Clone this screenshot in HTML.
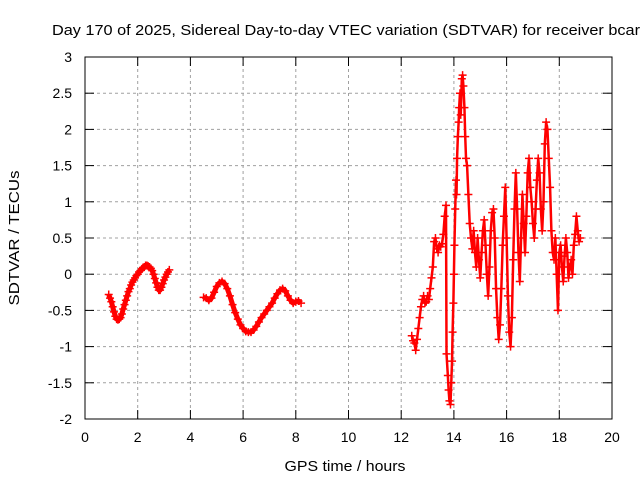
<!DOCTYPE html>
<html><head><meta charset="utf-8"><style>
body{margin:0;background:#fff}
svg{display:block;font-family:"Liberation Sans",sans-serif}
</style></head><body>
<svg id="c" width="640" height="480">
<text x="52" y="35" font-size="15" textLength="588" lengthAdjust="spacingAndGlyphs">Day 170 of 2025, Sidereal Day-to-day VTEC variation (SDTVAR) for receiver bcar</text>
<text x="345" y="471" font-size="15" textLength="121" lengthAdjust="spacingAndGlyphs" text-anchor="middle">GPS time / hours</text>
<text transform="translate(19,238) rotate(-90)" font-size="15" textLength="135" lengthAdjust="spacingAndGlyphs" text-anchor="middle">SDTVAR / TECUs</text>
<g id="grid"></g><g id="marks"></g>
<rect x="85" y="57" width="527" height="362" fill="none" stroke="#000"/>
</svg>
<script>
const xTicks=[0,2,4,6,8,10,12,14,16,18,20];
const yTicks=[-2,-1.5,-1,-0.5,0,0.5,1,1.5,2,2.5,3];
const s1T=[0.9,0.95,1.0,1.05,1.1,1.15,1.2,1.25,1.3,1.35,1.4,1.45,1.5,1.55,1.6,1.65,1.7,1.75,1.8,1.85,1.9,1.95,2.0,2.05,2.1,2.15,2.2,2.25,2.3,2.35,2.4,2.45,2.5,2.55,2.6,2.65,2.7,2.75,2.8,2.85,2.9,2.95,3.0,3.05,3.1,3.15,3.2];
const s1V=[-0.28,-0.33,-0.38,-0.45,-0.52,-0.58,-0.62,-0.63,-0.62,-0.6,-0.55,-0.48,-0.42,-0.36,-0.3,-0.24,-0.2,-0.15,-0.11,-0.08,-0.05,-0.02,0,0.03,0.05,0.07,0.09,0.1,0.12,0.12,0.11,0.1,0.08,0.05,0,-0.06,-0.12,-0.18,-0.22,-0.22,-0.18,-0.13,-0.08,-0.04,0,0.03,0.06];
const s2T=[4.5,4.6,4.7,4.8,4.9,5.0,5.1,5.2,5.3,5.4,5.5,5.6,5.7,5.8,5.9,6.0,6.1,6.2,6.3,6.4,6.5,6.6,6.7,6.8,6.9,7.0,7.1,7.2,7.3,7.4,7.5,7.6,7.7,7.8,7.9,8.0,8.1,8.2];
const s2V=[-0.32,-0.33,-0.36,-0.33,-0.25,-0.17,-0.12,-0.1,-0.13,-0.2,-0.3,-0.42,-0.53,-0.62,-0.7,-0.75,-0.79,-0.8,-0.8,-0.77,-0.72,-0.66,-0.6,-0.55,-0.5,-0.45,-0.4,-0.33,-0.27,-0.22,-0.2,-0.23,-0.3,-0.36,-0.4,-0.38,-0.37,-0.4];
const s3T=[12.4,12.45,12.5,12.55,12.6,12.65,12.7,12.75,12.8,12.85,12.9,12.95,13.0,13.05,13.1,13.15,13.2,13.25,13.3,13.35,13.4,13.45,13.5,13.55,13.6,13.65,13.7,13.72,13.77,13.8,13.83,13.87,13.9,13.93,13.95,13.98,14.0,14.02,14.05,14.08,14.1,14.12,14.15,14.18,14.2,14.23,14.26,14.3,14.33,14.36,14.4,14.43,14.46,14.5,14.55,14.6,14.65,14.7,14.75,14.8,14.85,14.9,14.95,15.0,15.05,15.1,15.15,15.2,15.25,15.3,15.35,15.4,15.45,15.5,15.55,15.6,15.65,15.7,15.75,15.8,15.85,15.9,15.95,16.0,16.05,16.1,16.15,16.2,16.25,16.3,16.35,16.4,16.45,16.5,16.55,16.6,16.65,16.7,16.75,16.8,16.85,16.9,16.95,17.0,17.05,17.1,17.15,17.2,17.25,17.3,17.35,17.4,17.45,17.5,17.55,17.6,17.65,17.7,17.75,17.8,17.85,17.9,17.95,18.0,18.05,18.1,18.15,18.2,18.25,18.3,18.35,18.4,18.45,18.5,18.55,18.6,18.65,18.7,18.75,18.8];
const s3V=[-0.85,-0.92,-0.95,-1.05,-0.9,-0.75,-0.6,-0.45,-0.35,-0.3,-0.4,-0.38,-0.3,-0.35,-0.2,-0.05,0.1,0.45,0.5,0.35,0.3,0.4,0.38,0.42,0.55,0.8,0.95,-1.1,-1.4,-1.6,-1.75,-1.8,-1.5,-1.2,-0.8,-0.4,0,0.4,0.9,1.3,1.1,1.6,1.9,2.1,2.3,2.5,2.2,2.7,2.75,2.6,2.3,1.9,1.6,1.5,1.1,0.7,0.5,0.35,0.6,0.3,0.1,0.5,0.2,-0.05,0.3,0.6,0.75,0.4,0,-0.3,0.1,0.6,0.85,0.9,0.5,-0.2,-0.6,-0.9,-0.7,-0.2,0.4,0.8,1.2,0.5,-0.3,-0.8,-1.0,-0.6,0.2,0.9,1.4,0.9,0.3,-0.1,0.5,1.1,0.7,0.3,0.8,1.4,1.6,1.2,1.0,0.7,0.5,0.9,1.3,1.6,1.4,0.9,0.6,1.0,1.8,2.1,2.0,1.6,1.2,0.6,0.3,0.2,0.5,0,-0.5,0.3,0.4,0.1,-0.1,0.25,0.5,0.3,-0.05,0.1,0.2,0,0.4,0.55,0.8,0.6,0.45,0.5];
const NS="http://www.w3.org/2000/svg";
const X=t=>85+t*527/20, Y=v=>419-(v+2)*362/5;
const g=document.getElementById('grid'), m=document.getElementById('marks');
function mk(tag,at,parent){const e=document.createElementNS(NS,tag);for(const k in at)e.setAttribute(k,at[k]);parent.appendChild(e);return e;}
xTicks.forEach(t=>{const x=X(t);
 if(t>0&&t<20){const l=mk('line',{x1:x,x2:x,y1:57,y2:419,stroke:'#a0a0a0','stroke-dasharray':'3,3'},g);
 
 }
 mk('line',{x1:x,x2:x,y1:419,y2:410,stroke:'#000'},g);mk('line',{x1:x,x2:x,y1:57,y2:66,stroke:'#000'},g);
 const tx=mk('text',{x:x,y:442,'font-size':14,'text-anchor':'middle'},g);tx.textContent=t;
 
 });
yTicks.forEach(v=>{const y=Y(v);
 if(v>-2&&v<3){const l=mk('line',{x1:85,x2:612,y1:y,y2:y,stroke:'#a0a0a0','stroke-dasharray':'3,3'},g);
 
 }
 mk('line',{x1:85,x2:94,y1:y,y2:y,stroke:'#000'},g);mk('line',{x1:612,x2:603,y1:y,y2:y,stroke:'#000'},g);
 const tx=mk('text',{x:72,y:y+5,'font-size':14,'text-anchor':'end'},g);tx.textContent=v;
 
 });
function series(T,V,w){
 const pts=T.map((t,i)=>X(t)+','+Y(V[i])).join(' ');
 const pl=mk('polyline',{points:pts,fill:'none',stroke:'#f00','stroke-width':w,'stroke-linejoin':'round'},m);
 
 
 T.forEach((t,i)=>{const x=X(t),y=Y(V[i]);
 const p=mk('path',{d:`M${x-4},${y}h8M${x},${y-4}v8`,stroke:'#f00','stroke-width':1.5},m);
 
 });}
series(s1T,s1V,5);series(s2T,s2V,5);series(s3T,s3V,2.5);
</script>
</body></html>
